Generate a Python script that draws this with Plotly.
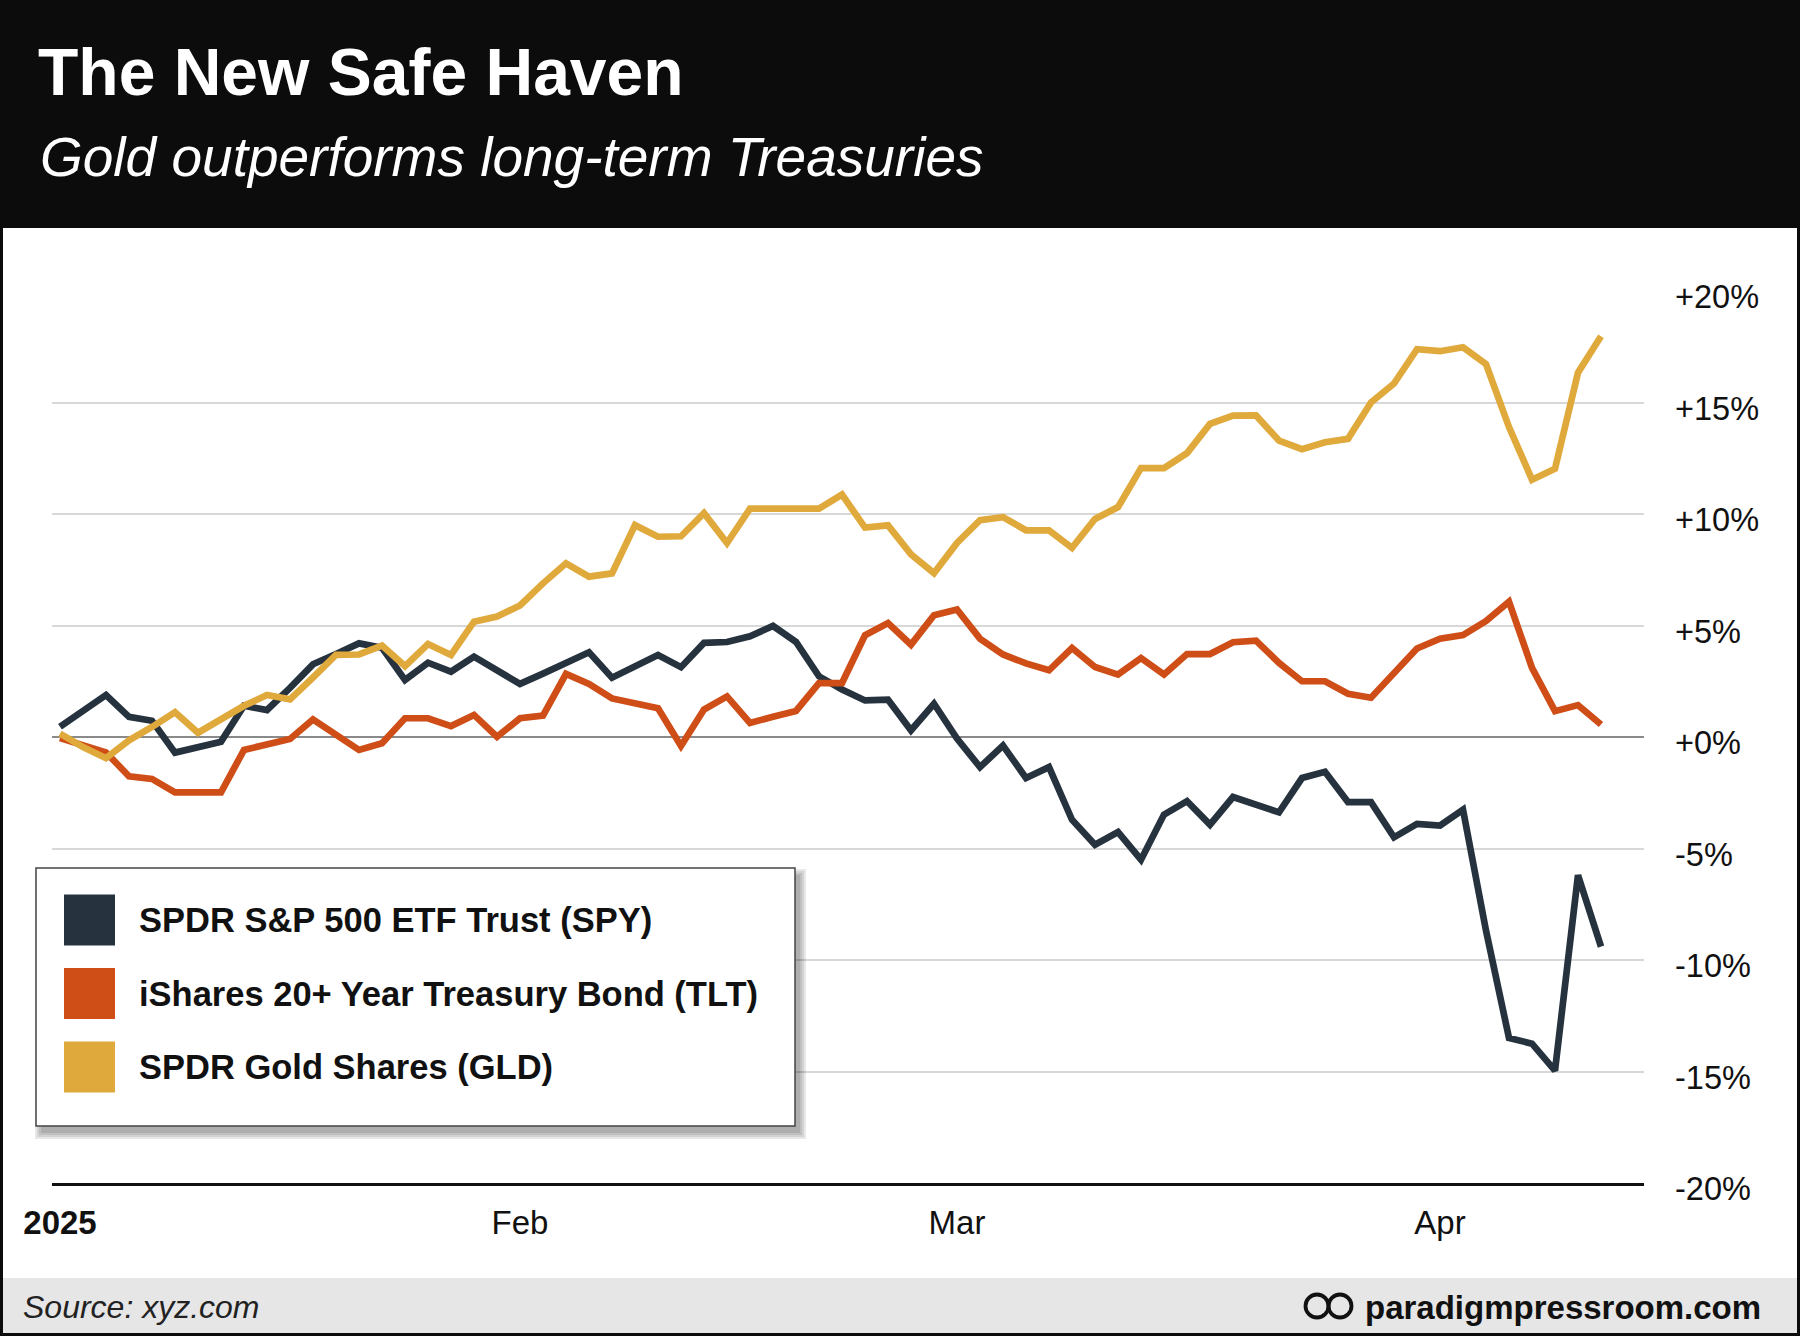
import plotly.graph_objects as go

# ---------------- data ----------------
dates = [
    "2025-01-02", "2025-01-03", "2025-01-06", "2025-01-07", "2025-01-08", "2025-01-10",
    "2025-01-13", "2025-01-14", "2025-01-15", "2025-01-16", "2025-01-17", "2025-01-21",
    "2025-01-22", "2025-01-23", "2025-01-24", "2025-01-27", "2025-01-28", "2025-01-29",
    "2025-01-30", "2025-01-31",
    "2025-02-03", "2025-02-04", "2025-02-05", "2025-02-06", "2025-02-07", "2025-02-10",
    "2025-02-11", "2025-02-12", "2025-02-13", "2025-02-14", "2025-02-18", "2025-02-19",
    "2025-02-20", "2025-02-21", "2025-02-24", "2025-02-25", "2025-02-26", "2025-02-27",
    "2025-02-28",
    "2025-03-03", "2025-03-04", "2025-03-05", "2025-03-06", "2025-03-07", "2025-03-10",
    "2025-03-11", "2025-03-12", "2025-03-13", "2025-03-14", "2025-03-17", "2025-03-18",
    "2025-03-19", "2025-03-20", "2025-03-21", "2025-03-24", "2025-03-25", "2025-03-26",
    "2025-03-27", "2025-03-28", "2025-03-31",
    "2025-04-01", "2025-04-02", "2025-04-03", "2025-04-04", "2025-04-07", "2025-04-08",
    "2025-04-09", "2025-04-10",
]

spy = [0.46, 1.17, 1.88, 0.90, 0.73, -0.70, -0.46, -0.21, 1.40, 1.21,
       2.20, 3.26, 3.72, 4.20, 4.00, 2.56, 3.33, 2.93, 3.60, 3.00,
       2.38, 2.84, 3.35, 3.80, 2.66, 3.20, 3.68, 3.13, 4.22, 4.26,
       4.52, 4.98, 4.26, 2.72, 2.13, 1.64, 1.67, 0.30, 1.49, -0.07,
       -1.35, -0.38, -1.84, -1.35, -3.71, -4.83, -4.26, -5.50, -3.48, -2.88,
       -3.93, -2.69, -3.05, -3.38, -1.84, -1.56, -2.92, -2.92, -4.50, -3.90,
       -3.97, -3.26, -8.68, -13.50, -13.75, -14.96, -6.20, -9.40]

tlt = [-0.05, -0.36, -0.69, -1.76, -1.88, -2.48, -2.48, -2.48, -0.58, -0.36,
       -0.09, 0.79, 0.10, -0.58, -0.28, 0.84, 0.84, 0.49, 0.99, 0.01,
       0.84, 0.96, 2.83, 2.38, 1.73, 1.49, 1.29, -0.40, 1.23, 1.82,
       0.63, 0.91, 1.17, 2.42, 2.42, 4.56, 5.11, 4.14, 5.46, 5.72,
       4.41, 3.70, 3.30, 2.99, 3.99, 3.14, 2.80, 3.54, 2.80, 3.72,
       3.72, 4.25, 4.32, 3.32, 2.50, 2.50, 1.94, 1.76, 2.89, 3.97,
       4.41, 4.57, 5.20, 6.07, 3.10, 1.16, 1.43, 0.56]

gld = [0.15, -0.45, -0.95, -0.15, 0.45, 1.11, 0.19, 0.82, 1.40, 1.88,
       1.69, 2.67, 3.68, 3.70, 4.10, 3.18, 4.17, 3.68, 5.17, 5.40,
       5.90, 6.89, 7.79, 7.19, 7.34, 9.50, 8.98, 9.00, 10.04, 8.70,
       10.24, 10.24, 10.24, 10.24, 10.87, 9.39, 9.49, 8.19, 7.35, 8.70,
       9.72, 9.86, 9.27, 9.27, 8.48, 9.78, 10.31, 12.06, 12.06, 12.73,
       14.04, 14.41, 14.42, 13.29, 12.91, 13.22, 13.37, 15.00, 15.85, 17.39,
       17.30, 17.48, 16.72, 13.90, 11.54, 12.03, 16.34, 17.97]

series_names = ["SPDR S&P 500 ETF Trust (SPY)",
                "iShares 20+ Year Treasury Bond (TLT)",
                "SPDR Gold Shares (GLD)"]
series_values = [spy, tlt, gld]
series_colors = ["#26333f", "#cf4e17", "#e0a93b"]

y_tick_values = [-20, -15, -10, -5, 0, 5, 10, 15, 20]
y_tick_labels = ["-20%", "-15%", "-10%", "-5%", "+0%", "+5%", "+10%", "+15%", "+20%"]
x_tick_dates = ["2025-01-02", "2025-02-03", "2025-03-03", "2025-04-01"]
x_tick_labels = ["2025", "Feb", "Mar", "Apr"]

title = "The New Safe Haven"
subtitle = "Gold outperforms long-term Treasuries"
source = "Source: xyz.com"
brand = "paradigmpressroom.com"

# ---------------- layout geometry (pixels) ----------------
W, H = 1800, 1336
ML, MR, MT, MB = 52, 156, 291, 153
PW, PH = W - ML - MR, H - MT - MB
FONT = "Liberation Sans, Arial, Helvetica, sans-serif"


def xp(px):
    return (px - ML) / PW


def yp(py):
    return (H - MB - py) / PH


fig = go.Figure()
for name, vals, col in zip(series_names, series_values, series_colors):
    fig.add_trace(go.Scatter(
        x=dates, y=vals, mode="lines", name=name,
        line=dict(color=col, width=6.7),
        showlegend=False,
        hovertemplate="%{x}<br>%{y:+.2f}%<extra>" + name + "</extra>",
    ))

shapes = []
# white chart body and grey footer inside black frame
shapes.append(dict(type="rect", xref="paper", yref="paper", layer="below",
                   x0=xp(3), x1=xp(W - 3), y0=yp(228), y1=yp(1278),
                   fillcolor="white", line=dict(width=0)))
shapes.append(dict(type="rect", xref="paper", yref="paper", layer="below",
                   x0=xp(3), x1=xp(W - 3), y0=yp(1278), y1=yp(H - 3),
                   fillcolor="#e6e6e6", line=dict(width=0)))

# legend box with soft shadow
LX0, LX1, LY0, LY1 = 36, 795, 868, 1126
for e in [0, 2, 4, 6]:
    shapes.append(dict(type="rect", xref="paper", yref="paper", layer="above",
                       x0=xp(LX0 + 5 - e), x1=xp(LX1 + 5 + e),
                       y0=yp(LY0 + 7 - e), y1=yp(LY1 + 7 + e),
                       fillcolor="rgba(0,0,0,0.09)", line=dict(width=0)))
shapes.append(dict(type="rect", xref="paper", yref="paper", layer="above",
                   x0=xp(LX0), x1=xp(LX1), y0=yp(LY0), y1=yp(LY1),
                   fillcolor="white", line=dict(color="#444444", width=1.5)))

annotations = []
row_y = [920, 993.5, 1067]
for name, col, cy in zip(series_names, series_colors, row_y):
    shapes.append(dict(type="rect", xref="paper", yref="paper", layer="above",
                       x0=xp(64), x1=xp(115), y0=yp(cy - 25.5), y1=yp(cy + 25.5),
                       fillcolor=col, line=dict(width=0)))
    annotations.append(dict(xref="paper", yref="paper", x=xp(137), y=yp(cy),
                            xanchor="left", yanchor="middle", showarrow=False,
                            text="<b>" + name + "</b>",
                            font=dict(family=FONT, size=34.5, color="#111111")))

# brand logo (two linked rings)
for cx in [1317, 1340]:
    shapes.append(dict(type="circle", xref="paper", yref="paper", layer="above",
                       x0=xp(cx - 11.5), x1=xp(cx + 11.5),
                       y0=yp(1306 - 11.5), y1=yp(1306 + 11.5),
                       line=dict(color="#111111", width=3.8)))

annotations += [
    dict(xref="paper", yref="paper", x=xp(36), y=yp(72), xanchor="left", yanchor="middle",
         showarrow=False, text="<b>" + title + "</b>",
         font=dict(family=FONT, size=66, color="white")),
    dict(xref="paper", yref="paper", x=xp(38), y=yp(157), xanchor="left", yanchor="middle",
         showarrow=False, text="<i>" + subtitle + "</i>",
         font=dict(family=FONT, size=55, color="white")),
    dict(xref="paper", yref="paper", x=xp(21), y=yp(1307), xanchor="left", yanchor="middle",
         showarrow=False, text="<i>" + source + "</i>",
         font=dict(family=FONT, size=32, color="#222222")),
    dict(xref="paper", yref="paper", x=xp(1763), y=yp(1307), xanchor="right", yanchor="middle",
         showarrow=False, text="<b>" + brand + "</b>",
         font=dict(family=FONT, size=33, color="#111111")),
]

x_tick_text = ["<b>" + x_tick_labels[0] + "</b>"] + x_tick_labels[1:]

fig.update_layout(
    width=W, height=H,
    margin=dict(l=ML, r=MR, t=MT, b=MB, pad=0),
    paper_bgcolor="#0c0c0c", plot_bgcolor="white",
    font=dict(family=FONT, color="#111111"),
    shapes=shapes, annotations=annotations,
    showlegend=False,
    xaxis=dict(type="category", range=[(ML - 60) / 23, (ML + PW - 60) / 23],
               tickmode="array", tickvals=x_tick_dates, ticktext=x_tick_text,
               showgrid=False, zeroline=False, ticks="",
               showline=True, linecolor="#111111", linewidth=2.5,
               tickfont=dict(family=FONT, size=33, color="#111111"),
               ticklabelstandoff=9, fixedrange=True),
    yaxis=dict(range=[-20, 20], side="right",
               tickmode="array", tickvals=y_tick_values, ticktext=y_tick_labels,
               showgrid=True, gridcolor="#d8d8d8", gridwidth=1.5,
               zeroline=True, zerolinecolor="#8a8a8a", zerolinewidth=2.2,
               showline=False, ticks="",
               tickfont=dict(family=FONT, size=32.5, color="#111111"),
               ticklabelstandoff=30, ticklabelshift=6, fixedrange=True),
)

fig.write_html(
    "out.html",
    config={"displayModeBar": False},
    post_script="document.body.style.margin='0px';document.body.style.overflow='hidden';",
)
